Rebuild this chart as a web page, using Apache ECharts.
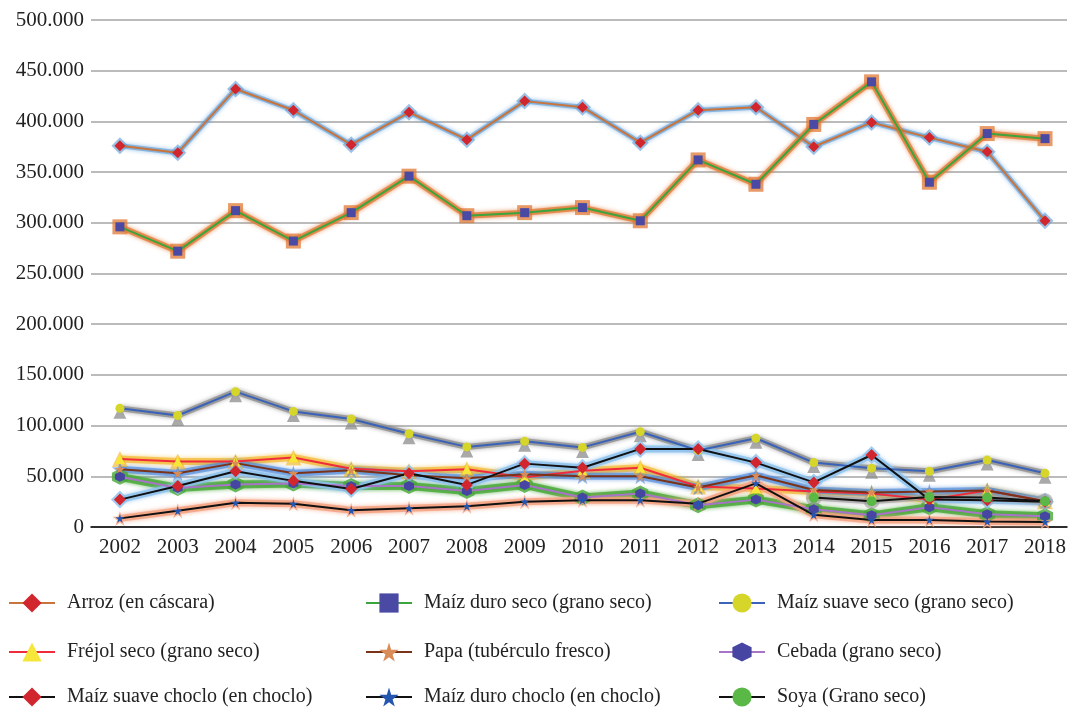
<!DOCTYPE html>
<html>
<head>
<meta charset="utf-8">
<script src="https://cdn.jsdelivr.net/npm/echarts@6/dist/echarts.min.js"></script>
<style>
  html, body { margin: 0; padding: 0; background: #fff; }
  #chart { width: 1080px; height: 711px; }
</style>
</head>
<body>
<div id="chart"></div>
<script>
// Years on the horizontal axis
const years = [2002, 2003, 2004, 2005, 2006, 2007, 2008, 2009, 2010, 2011, 2012, 2013, 2014, 2015, 2016, 2017, 2018];

// Production by crop
const arroz = [376000, 369000, 432000, 411000, 377000, 409000, 382000, 420000, 414000, 379000, 411000, 414000, 375000, 399000, 384000, 370000, 302000];
const maizDuroSeco = [296000, 272000, 312000, 282000, 310000, 346000, 307000, 310000, 315000, 302000, 362000, 338000, 397000, 439000, 340000, 388000, 383000];
const maizSuaveSeco = [117000, 110000, 133500, 114000, 106500, 92000, 79000, 84500, 78500, 94000, 75500, 87500, 63500, 58000, 55000, 66000, 53000];
const frejolSeco = [67000, 64500, 64500, 68500, 57500, 55000, 57000, 49000, 55500, 58500, 40000, 38000, 35000, 33000, 27000, 36000, 25500];
const papa = [57000, 53000, 63000, 53000, 56000, 51000, 48000, 52000, 50000, 50000, 39000, 51000, 36500, 34000, 35000, 36000, 25500];
const cebada = [49500, 38500, 42000, 43000, 40500, 40500, 35500, 41500, 29000, 33000, 21500, 27000, 17500, 11500, 19500, 12500, 10500];
const maizSuaveChoclo = [27000, 40500, 55000, 45500, 37500, 53000, 41500, 62500, 58500, 77000, 77000, 63500, 44000, 71000, 27000, 26500, 25000];
const maizDuroChoclo = [8500, 16000, 24000, 23000, 16500, 18500, 20500, 25000, 26500, 26500, 23000, 43000, 12000, 7000, 7000, 5500, 5000];
const soya = [null, null, null, null, null, null, null, null, null, null, null, null, 29000, 25500, 29500, 29000, 25500];

// Y axis tick values
const yTicks = [0, 50000, 100000, 150000, 200000, 250000, 300000, 350000, 400000, 450000, 500000];

const FONT = 'Liberation Serif';
const STAR = 'path://M50,0 L61,35 L98,35 L68,57 L79,91 L50,70 L21,91 L32,57 L2,35 L39,35 Z';
const HEX = 'path://M50,0 L100,25 L100,75 L50,100 L0,75 L0,25 Z';

const pairs = vals => years.map((y, i) => [y, vals[i]]);

// Each crop: a soft coloured halo underneath, then the line with its markers
function crop(name, vals, s) {
  const halo = {
    name: name + ' halo',
    type: 'line',
    data: pairs(vals),
    symbol: s.haloSymbol || s.symbol,
    symbolSize: s.haloSize || s.size + 6,
    symbolOffset: s.haloOffset || [0, 0],
    lineStyle: { color: s.glow, width: s.glowWidth || 7, opacity: s.glowOpacity || 0.55, shadowColor: s.glow, shadowBlur: 4 },
    itemStyle: { color: s.glow, opacity: s.glowOpacity || 0.55 },
    silent: true,
    z: 1,
    emphasis: { disabled: true },
    tooltip: { show: false }
  };
  const main = {
    name: name,
    type: 'line',
    data: pairs(vals),
    symbol: s.symbol,
    symbolSize: s.size,
    showAllSymbol: true,
    lineStyle: { color: s.line, width: 2 },
    itemStyle: { color: s.marker },
    z: 2,
    emphasis: { disabled: true }
  };
  return [halo, main];
}

const crops = [
  ['Arroz (en cáscara)', arroz, { symbol: 'diamond', size: 11, line: '#c8743c', marker: '#d2262e', glow: '#5b9bd5', glowWidth: 5, glowOpacity: 0.6 }],
  ['Maíz duro seco (grano seco)', maizDuroSeco, { symbol: 'rect', size: 9, line: '#3ca43c', marker: '#4a4aa4', glow: '#e07a36', glowWidth: 6, glowOpacity: 0.75 }],
  ['Maíz suave seco (grano seco)', maizSuaveSeco, { symbol: 'circle', size: 9, line: '#3a62b8', marker: '#d6d62a', glow: '#8c8c8c', glowWidth: 6, glowOpacity: 0.75, haloSymbol: 'triangle', haloSize: 13, haloOffset: [0, 4] }],
  ['Fréjol seco (grano seco)', frejolSeco, { symbol: 'triangle', size: 10, line: '#f02c3c', marker: '#f6e63a', glow: '#f2b21e', glowWidth: 7, glowOpacity: 0.6 }],
  ['Papa (tubérculo fresco)', papa, { symbol: STAR, size: 10, line: '#7a3218', marker: '#d98c58', glow: '#4a86d8', glowWidth: 7, glowOpacity: 0.6 }],
  ['Cebada (grano seco)', cebada, { symbol: HEX, size: 10, line: '#a874c8', marker: '#4646a2', glow: '#48a838', glowWidth: 8, glowOpacity: 0.8 }],
  ['Maíz suave choclo (en choclo)', maizSuaveChoclo, { symbol: 'diamond', size: 12, line: '#111111', marker: '#d2262e', glow: '#8cc0ec', glowWidth: 7, glowOpacity: 0.8 }],
  ['Maíz duro choclo (en choclo)', maizDuroChoclo, { symbol: STAR, size: 9, line: '#111111', marker: '#2456b0', glow: '#f4a080', glowWidth: 7, glowOpacity: 0.8 }],
  ['Soya (Grano seco)', soya, { symbol: 'circle', size: 10, line: '#111111', marker: '#5ab846', glow: '#9a9a9a', glowWidth: 6, glowOpacity: 0.6 }]
];

const series = [];
crops.forEach(c => series.push(...crop(c[0], c[1], c[2])));

// Legend: three columns by three rows
const colLeft = [8, 365, 718];
const rowTop = [593, 642, 687];
const legends = crops.map((c, i) => ({
  data: [c[0]],
  left: colLeft[i % 3],
  top: rowTop[Math.floor(i / 3)],
  padding: 0,
  itemWidth: 46,
  itemHeight: 24,
  selectedMode: false,
  textStyle: { fontFamily: FONT, fontSize: 20, color: '#222', padding: [0, 0, 0, 7] }
}));

const fmt = v => v === 0 ? '0' : (v / 1000) + '.000';

const chart = echarts.init(document.getElementById('chart'), null, { renderer: 'canvas' });
chart.setOption({
  animation: false,
  backgroundColor: '#ffffff',
  grid: { left: 91, right: 13, top: 20, bottom: 184, containLabel: false },
  legend: legends,
  xAxis: {
    type: 'value',
    min: 2001.5,
    max: 2018.38,
    axisLine: { show: true, lineStyle: { color: '#000', width: 1.5 } },
    axisTick: { show: false },
    splitLine: { show: false },
    axisLabel: {
      customValues: years,
      margin: 10,
      fontFamily: FONT,
      fontSize: 21,
      color: '#222',
      formatter: v => String(v)
    }
  },
  yAxis: {
    type: 'value',
    min: 0,
    max: 500000,
    interval: 50000,
    axisLine: { show: false },
    axisTick: { show: false },
    splitLine: { show: true, lineStyle: { color: '#a4a4a4', width: 1.5 } },
    axisLabel: {
      customValues: yTicks,
      margin: 7,
      fontFamily: FONT,
      fontSize: 21,
      color: '#222',
      formatter: fmt
    }
  },
  series: series
});
</script>
</body>
</html>
